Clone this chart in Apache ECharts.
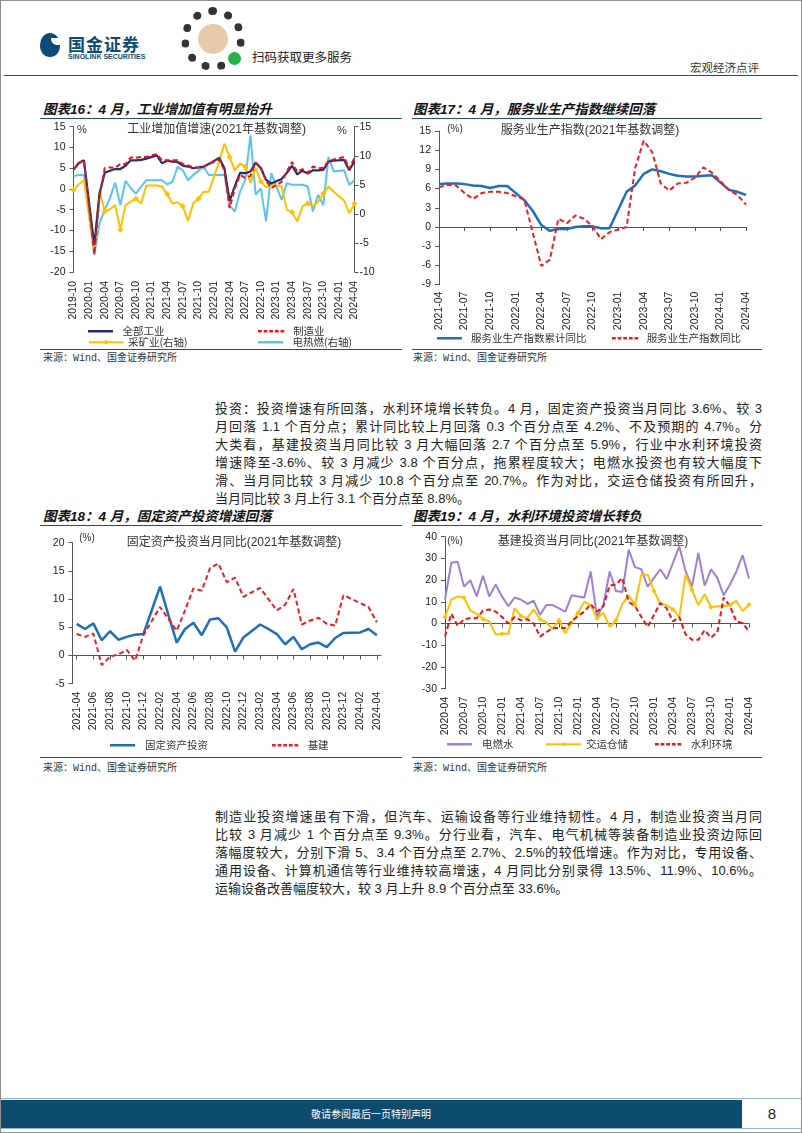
<!DOCTYPE html>
<html><head><meta charset="utf-8">
<script src="https://cdn.jsdelivr.net/npm/echarts@6/dist/echarts.min.js"></script>
<style>
body{margin:0;background:#fff;}
#page{position:relative;width:802px;height:1133px;overflow:hidden;font-family:"Liberation Sans","Noto Sans CJK SC",sans-serif;color:#222;background:#fff;}
.ttl{position:absolute;font-size:13.5px;font-weight:bold;font-style:italic;color:#111;white-space:nowrap;line-height:16px;font-family:"Liberation Sans","Noto Sans CJK SC",sans-serif;}
.rule{position:absolute;height:0;border-top:1.5px solid #1f4e6e;}
.src{position:absolute;font-size:10px;color:#333;white-space:nowrap;line-height:12px;font-family:"Liberation Mono","Noto Sans CJK SC",monospace;}
.para{position:absolute;left:215px;width:547px;font-size:13px;line-height:18px;font-family:"Liberation Sans","Noto Sans CJK SC",sans-serif;color:#222;}
.para div{text-align:justify;text-align-last:justify;white-space:nowrap;height:18px;}
.para div.last{text-align:left;text-align-last:left;}
.chart{position:absolute;}
</style></head>
<body>
<div id="page">
  <!-- header -->
  <div style="position:absolute;left:40px;top:33px;width:20px;height:24px;border-radius:50% 50% 45% 45%;background:#0d4a75;"></div>
  <div style="position:absolute;left:51px;top:38px;width:9px;height:7px;background:#fff;border-radius:0 0 0 6px;"></div>
  <div style="position:absolute;left:68px;top:34px;font-size:17px;font-weight:bold;color:#0d4a75;letter-spacing:1px;font-family:'Noto Sans CJK SC';line-height:20px;">国金证券</div>
  <div style="position:absolute;left:68px;top:53px;font-size:7px;font-weight:bold;color:#0d4a75;line-height:8px;white-space:nowrap;">SINOLINK SECURITIES</div>
  <div style="position:absolute;left:181px;top:7px;width:48px;height:48px;border:8px dotted #333;border-radius:50%;"></div>
  <div style="position:absolute;left:198px;top:24px;width:30px;height:30px;background:#e8c9a9;border-radius:50%;"></div>
  <div style="position:absolute;left:228px;top:52px;width:13px;height:13px;background:#27b14b;border-radius:50%;"></div>
  <div style="position:absolute;left:252px;top:49px;font-size:12.5px;color:#222;font-family:'Noto Sans CJK SC';line-height:16px;white-space:nowrap;">扫码获取更多服务</div>
  <div style="position:absolute;left:690px;top:60px;font-size:11.5px;color:#333;font-family:'Noto Sans CJK SC';line-height:14px;white-space:nowrap;">宏观经济点评</div>
  <div style="position:absolute;left:4px;top:75px;width:794px;border-top:1.5px solid #1f4e6e;"></div>

  <!-- chart titles -->
  <div class="ttl" style="left:43px;top:102px;">图表16：4 月，工业增加值有明显抬升</div>
  <div class="rule" style="left:40px;top:118px;width:362px;"></div>
  <div class="ttl" style="left:413px;top:102px;">图表17：4 月，服务业生产指数继续回落</div>
  <div class="rule" style="left:412px;top:118px;width:350px;"></div>
  <div class="rule" style="left:40px;top:349px;width:362px;"></div>
  <div class="src" style="left:43px;top:353px;">来源：Wind、国金证券研究所</div>
  <div class="rule" style="left:412px;top:349px;width:350px;"></div>
  <div class="src" style="left:413px;top:353px;">来源：Wind、国金证券研究所</div>

  <div class="para" style="top:400px;">
    <div>投资：投资增速有所回落，水利环境增长转负。4 月，固定资产投资当月同比 3.6%、较 3</div>
    <div>月回落 1.1 个百分点；累计同比较上月回落 0.3 个百分点至 4.2%、不及预期的 4.7%。分</div>
    <div>大类看，基建投资当月同比较 3 月大幅回落 2.7 个百分点至 5.9%，行业中水利环境投资</div>
    <div>增速降至-3.6%、较 3 月减少 3.8 个百分点，拖累程度较大；电燃水投资也有较大幅度下</div>
    <div>滑、当月同比较 3 月减少 10.8 个百分点至 20.7%。作为对比，交运仓储投资有所回升，</div>
    <div class="last">当月同比较 3 月上行 3.1 个百分点至 8.8%。</div>
  </div>

  <div class="ttl" style="left:43px;top:509px;">图表18：4 月，固定资产投资增速回落</div>
  <div class="rule" style="left:40px;top:525px;width:362px;"></div>
  <div class="ttl" style="left:413px;top:509px;">图表19：4 月，水利环境投资增长转负</div>
  <div class="rule" style="left:412px;top:525px;width:350px;"></div>
  <div class="rule" style="left:40px;top:757px;width:362px;"></div>
  <div class="src" style="left:43px;top:763px;">来源：Wind、国金证券研究所</div>
  <div class="rule" style="left:412px;top:757px;width:350px;"></div>
  <div class="src" style="left:413px;top:763px;">来源：Wind、国金证券研究所</div>

  <div class="para" style="top:808px;">
    <div>制造业投资增速虽有下滑，但汽车、运输设备等行业维持韧性。4 月，制造业投资当月同</div>
    <div>比较 3 月减少 1 个百分点至 9.3%。分行业看，汽车、电气机械等装备制造业投资边际回</div>
    <div>落幅度较大，分别下滑 5、3.4 个百分点至 2.7%、2.5%的较低增速。作为对比，专用设备、</div>
    <div>通用设备、计算机通信等行业维持较高增速，4 月同比分别录得 13.5%、11.9%、10.6%。</div>
    <div class="last">运输设备改善幅度较大，较 3 月上升 8.9 个百分点至 33.6%。</div>
  </div>

  <!-- footer -->
  <div style="position:absolute;left:0;top:1098px;width:802px;border-top:1.5px solid #8fb8d6;"></div>
  <div style="position:absolute;left:0;top:1100px;width:742px;height:28px;background:#0c4a6e;color:#fff;font-size:10px;line-height:28px;text-align:center;font-family:'Noto Sans CJK SC';">敬请参阅最后一页特别声明</div>
  <div style="position:absolute;left:742px;top:1100px;width:60px;height:28px;line-height:28px;text-align:center;font-size:15px;color:#222;">8</div>
  <div style="position:absolute;left:0;top:1128px;width:802px;border-top:1.5px solid #8fb8d6;"></div>

  <div id="c16" class="chart" style="left:0;top:100px;width:405px;height:255px;"></div>
  <div id="c17" class="chart" style="left:405px;top:100px;width:397px;height:255px;"></div>
  <div id="c18" class="chart" style="left:0;top:508px;width:405px;height:250px;"></div>
  <div id="c19" class="chart" style="left:405px;top:508px;width:397px;height:250px;"></div>
  <div style="position:absolute;left:0;top:0;width:800px;height:1131px;border:1px solid #8c8c8c;pointer-events:none;"></div>
</div>
<script>
function months(y0, m0, y1, m1) {
  const a = []; let y = y0, m = m0;
  while (y < y1 || (y === y1 && m <= m1)) { a.push(y + '-' + String(m).padStart(2, '0')); m++; if (m > 12) { m = 1; y++; } }
  return a;
}
// ---------- Chart 16: 工业增加值增速 ----------
const cat16 = months(2019, 10, 2024, 4);
const ind16 = [4.7,6.2,6.9,null,-13.5,-1.1,3.9,4.4,4.8,4.8,5.6,6.9,6.9,7.0,7.3,null,8.1,6.2,6.8,6.6,6.5,5.6,5.4,5.0,5.2,5.4,6.0,null,7.5,5.0,-2.9,0.7,3.9,3.8,4.2,6.3,5.0,2.2,1.3,null,2.4,3.9,5.6,3.5,4.4,3.7,4.5,4.5,4.6,6.6,6.8,null,7.0,4.5,6.7];
const mfg16 = [4.6,6.3,7.0,null,-15.7,-1.8,5.0,5.2,5.1,6.0,6.0,7.6,7.5,7.7,7.7,null,8.4,6.9,6.9,6.9,6.9,6.0,5.7,5.2,5.2,5.3,6.0,null,7.1,4.4,-4.6,0.1,3.4,2.7,3.1,6.4,5.2,2.0,0.2,null,1.7,4.2,6.5,4.1,4.8,3.9,5.4,5.0,5.1,6.7,7.1,null,7.7,4.9,7.5];
const mine16 = [4.1,5.1,5.8,null,-6.5,4.0,0.4,0.8,1.5,-2.7,1.5,2.1,2.6,1.8,4.9,null,4.9,4.7,3.4,1.8,2.0,1.3,-1.2,1.8,2.6,3.8,3.8,null,9.0,12.1,9.8,7.5,8.7,8.1,5.3,7.9,5.6,4.6,5.0,null,4.7,0.7,0.3,-1.3,1.3,1.8,1.3,2.1,3.5,4.7,3.8,null,2.3,0.1,1.8];
const elec16 = [6.5,6.7,6.7,null,-7.1,-1.6,0.7,2.7,5.4,1.5,5.7,4.4,3.5,4.7,5.8,null,5.8,5.8,5.1,5.5,8.1,7.5,5.8,6.7,7.4,8.1,6.7,null,6.7,6.7,1.5,0.4,3.8,5.8,13.5,3.3,4.4,-1.3,7.0,null,2.4,5.3,5.0,5.0,5.0,4.7,0.4,3.3,1.5,9.8,7.3,null,7.5,5.0,5.8];
const names16 = ['全部工业', '制造业', '采矿业(右轴)', '电热燃(右轴)'];

// ---------- Chart 17: 服务业生产指数 ----------
const cat17 = months(2021, 4, 2024, 4);
const cum17 = [6.7,6.8,6.8,6.7,6.5,6.4,6.1,6.4,6.4,null,4.2,2.5,0.3,-0.6,-0.3,-0.3,0.0,0.1,0.1,-0.2,-0.2,null,5.5,6.5,8.3,9.0,8.7,8.3,8.0,7.9,7.9,8.0,8.1,null,5.8,5.5,5.0];
const mon17 = [6.2,6.6,6.5,5.3,4.4,5.3,5.5,5.5,5.3,null,4.3,-0.9,-6.1,-5.1,1.3,0.6,1.8,1.3,0.1,-1.9,-0.8,null,0.0,9.2,13.5,11.7,6.8,5.7,6.8,6.9,7.7,9.3,8.5,null,5.8,5.0,3.5];
const names17 = ['服务业生产指数累计同比', '服务业生产指数同比'];

// ---------- Chart 18: 固定资产投资当月同比 ----------
const cat18 = months(2021, 4, 2024, 4);
const fai18 = [5.6,4.7,5.7,2.7,4.3,2.8,3.3,3.7,3.8,null,12.2,7.2,2.3,4.7,5.8,3.6,6.4,6.6,5.0,0.7,3.2,null,5.5,4.7,3.8,2.0,3.3,1.1,2.0,2.3,1.5,3.1,4.0,null,4.1,4.7,3.6];
const infra18 = [3.8,3.3,3.9,-1.7,-0.2,0.2,1.0,-0.9,3.6,null,8.6,6.5,4.4,8.0,11.9,11.5,15.5,16.3,13.0,13.8,10.4,null,12.0,10.0,8.0,9.0,11.8,5.5,6.2,6.7,5.6,5.3,10.7,null,9.3,8.6,5.9];
const names18 = ['固定资产投资', '基建'];

// ---------- Chart 19: 基建投资当月同比 ----------
const cat19 = months(2020, 4, 2024, 4);
const elec19 = [11,28,28.5,17,20,12.5,22,12.5,18,12.5,8,12,11,9,10.5,4,8.5,8.5,7,5.5,13,12.5,12,24,3,8.5,24,15,14.5,34,26,25,17,21,25,20.5,28,35.5,24,17,32.5,17.5,25,21,13,18,24,31.5,20.7];
const trans19 = [3,11,12.5,12,6,4.5,2,1,-5,-4.7,-4.7,7,3.5,2.5,6.5,2,0.5,-2.5,1.5,-4.5,0.5,5,10,8.5,2.5,5,-1.5,1.5,9,13,8.5,22.5,22.5,15,9,8.5,6.5,3,22.5,15.5,8.5,13.5,7.5,8,8,8.5,10.5,5.7,8.8];
const water19 = [-6,4.5,-1,2,2.5,2.5,6,6.5,5.5,3,0,3,1.5,2,0,-6,-4,-2,-2,-2,1,3.5,5.5,9,5.5,8,17.5,18,21,10,8,3,-1.5,4,9.5,7,1,3,-5,-7.5,-7.5,-3,-6.5,-4,12,8,1,0.2,-3.6];
const names19 = ['电燃水', '交运仓储', '水利环境'];

// ---------- shared styles ----------
const NUMFONT = 'Liberation Sans';
const CJK = '"Noto Sans CJK SC"';
const AXC = '#555';
const SOLID = 'path://M0,0H40V4H0Z';
const DASH = 'path://M0,0H6V4H0Z M9,0H15V4H9Z M18,0H24V4H18Z M27,0H33V4H27Z M36,0H42V4H36Z';
function yAxis(min, max, interval, extra) {
  return Object.assign({
    type: 'value', min, max, interval,
    splitLine: { show: false },
    axisLine: { show: true, lineStyle: { color: AXC, width: 1 } },
    axisTick: { show: true, length: 4, lineStyle: { color: AXC } },
    axisLabel: { color: '#222', fontSize: 10.5, fontFamily: NUMFONT, margin: 8 }
  }, extra || {});
}
function xLabelAxis(cats, interval, margin, boundaryGap) {
  return {
    type: 'category', data: cats, boundaryGap: !!boundaryGap, position: 'bottom',
    axisLine: { show: false, onZero: false }, axisTick: { show: false },
    axisLabel: { rotate: 90, interval, fontSize: 10.5, color: '#222', fontFamily: NUMFONT, margin }
  };
}
function xZeroAxis(cats, interval, boundaryGap) {
  return {
    type: 'category', data: cats, boundaryGap: !!boundaryGap, position: 'bottom',
    axisLine: { show: true, onZero: true, lineStyle: { color: AXC, width: 1 } },
    axisTick: { show: true, interval, length: 4, alignWithLabel: true, lineStyle: { color: AXC } },
    axisLabel: { show: false }
  };
}
// icon: SOLID / DASH path for plain lines; undefined = series icon (line + marker)
function legendItem(name, left, cy, w, icon, h) {
  return {
    data: [icon ? { name, icon } : name], left, top: cy - 7, itemWidth: w, itemHeight: h || 2.5, itemGap: 0,
    textStyle: { fontSize: 10.5, color: '#333', fontFamily: CJK },
    selectedMode: false
  };
}
function txt(text, x, y, size) {
  return { type: 'text', x, y, style: { text, align: 'center', verticalAlign: 'middle', textAlign: 'center', textVerticalAlign: 'middle', fill: '#333', font: size + 'px "Liberation Sans", "Noto Sans CJK SC", sans-serif' } };
}
function line(name, data, color, width, extra) {
  return Object.assign({
    name, type: 'line', data, connectNulls: true, symbol: 'none',
    lineStyle: { color, width }, itemStyle: { color }, animation: false
  }, extra || {});
}

// ---------- Chart 16 ----------
echarts.init(document.getElementById('c16')).setOption({
  animation: false,
  grid: { left: 73.5, top: 26.7, width: 281, height: 145.3 },
  xAxis: [xLabelAxis(cat16, 2, 9, false)],
  yAxis: [
    yAxis(-20, 15, 5, { position: 'left' }),
    yAxis(-10, 15, 5, { position: 'right', axisLabel: { color: '#222', fontSize: 10.5, fontFamily: NUMFONT, margin: 5 } })
  ],
  legend: [
    legendItem(names16[0], 83, 228, 34, SOLID, 2.5),
    legendItem(names16[1], 253, 228, 34, DASH, 2.5),
    legendItem(names16[2], 83, 239, 34, undefined, 6),
    legendItem(names16[3], 253, 239, 34, SOLID, 2.5)
  ],
  graphic: [txt('工业增加值增速(2021年基数调整)', 216.7, 30, 12), txt('%', 82, 30, 11), txt('%', 342, 31, 11)],
  series: [
    line(names16[3], elec16, '#5bc3ec', 2, { yAxisIndex: 1 }),
    line(names16[2], mine16, '#ffc000', 2, { yAxisIndex: 1, symbol: 'diamond', symbolSize: 6, showSymbol: true }),
    line(names16[0], ind16, '#24306e', 2.2),
    line(names16[1], mfg16, '#e8141c', 2, { lineStyle: { color: '#e8141c', width: 2, type: [5, 3] } })
  ]
});

// ---------- Chart 17 ----------
echarts.init(document.getElementById('c17')).setOption({
  animation: false,
  grid: { left: 34, top: 31, width: 307, height: 153.6 },
  xAxis: [xLabelAxis(cat17, 2, 7, false), xZeroAxis(cat17, 2, false)],
  yAxis: [yAxis(-9, 15, 3)],
  legend: [legendItem(names17[0], 27, 235, 33, SOLID, 2.5), legendItem(names17[1], 202, 235, 33, DASH, 2.5)],
  graphic: [txt('服务业生产指数(2021年基数调整)', 185, 31, 12), txt('(%)', 50, 29, 10)],
  series: [
    line(names17[0], cum17, '#1e6eb8', 2.5),
    line(names17[1], mon17, '#ee1d23', 2, { lineStyle: { color: '#ee1d23', width: 2, type: [5, 3] } })
  ]
});

// ---------- Chart 18 ----------
echarts.init(document.getElementById('c18')).setOption({
  animation: false,
  grid: { left: 72.5, top: 34.7, width: 308.5, height: 141 },
  xAxis: [xLabelAxis(cat18, 1, 8, true), xZeroAxis(cat18, 1, true)],
  yAxis: [yAxis(-5, 20, 5)],
  legend: [legendItem(names18[0], 105, 234, 35, SOLID, 2.5), legendItem(names18[1], 267, 234, 35, DASH, 2.5)],
  graphic: [txt('固定资产投资当月同比(2021年基数调整)', 234, 34.7, 12), txt('(%)', 87, 30, 10)],
  series: [
    line(names18[0], fai18, '#1e6eb8', 2.5),
    line(names18[1], infra18, '#ee1d23', 2, { lineStyle: { color: '#ee1d23', width: 2, type: [5, 3] } })
  ]
});

// ---------- Chart 19 ----------
echarts.init(document.getElementById('c19')).setOption({
  animation: false,
  grid: { left: 40, top: 28.7, width: 304, height: 152 },
  xAxis: [xLabelAxis(cat19, 2, 8, false), xZeroAxis(cat19, 2, false)],
  yAxis: [yAxis(-30, 40, 10)],
  legend: [legendItem(names19[0], 37, 233, 35, SOLID, 2.5), legendItem(names19[1], 135, 233, 35, undefined, 5), legendItem(names19[2], 245, 233, 35, DASH, 2.5)],
  graphic: [txt('基建投资当月同比(2021年基数调整)', 188, 33.7, 12), txt('(%)', 50, 33.7, 10)],
  series: [
    line(names19[0], elec19, '#9d80cf', 2),
    line(names19[1], trans19, '#ffc000', 2, { symbol: 'diamond', symbolSize: 5, showSymbol: true }),
    line(names19[2], water19, '#e8141c', 2, { lineStyle: { color: '#e8141c', width: 2, type: [5, 3] } })
  ]
});
</script>
</body></html>
